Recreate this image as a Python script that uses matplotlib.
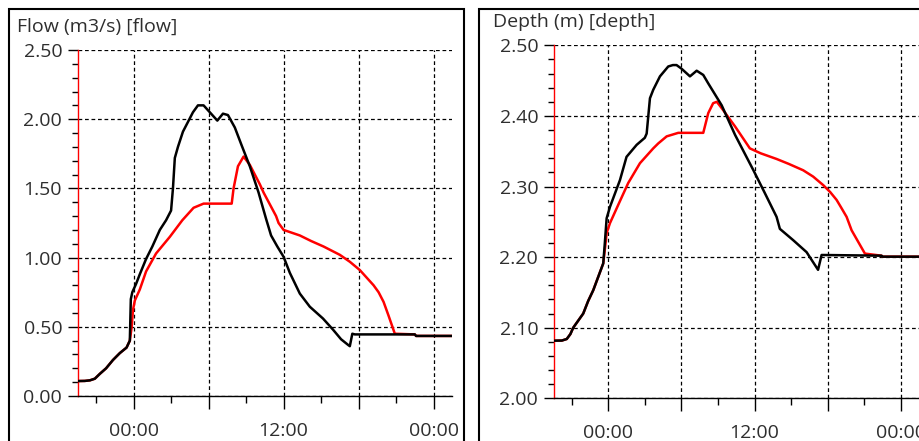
import pandas as pd
import matplotlib as mpl
mpl.use('Agg')
import matplotlib.pyplot as plt
import matplotlib.dates as mdates
from matplotlib.patches import Rectangle
from matplotlib.ticker import MultipleLocator, FuncFormatter

plt.rcParams['font.family'] = ['Open Sans', 'DejaVu Sans']

base = pd.Timestamp('2020-01-02 00:00')

# flow panel (hours relative to midnight)
flow_obs_h = [-4.45, -3.9, -3.5, -3.1, -2.7, -2.2, -1.65, -1.1, -0.56, -0.3, -0.22, -0.1, 0.2, 0.5, 1.0, 1.5,
              2.1, 2.6, 3.0, 3.15, 3.3, 3.55, 3.95, 4.35, 4.75, 5.15, 5.6, 6.1, 6.7, 7.15, 7.55, 8.1,
              8.65, 9.3, 10.0, 10.6, 11.0, 11.5, 12.0, 12.5, 13.3, 14.1, 15.15, 15.95, 16.6, 17.15,
              17.3, 17.5, 17.7, 22.5, 22.6, 25.5]
flow_obs = [0.108, 0.109, 0.113, 0.125, 0.16, 0.20, 0.26, 0.31, 0.35, 0.40, 0.70, 0.75, 0.81, 0.88, 0.99, 1.08,
            1.20, 1.27, 1.34, 1.50, 1.72, 1.80, 1.91, 1.98, 2.05, 2.10, 2.10, 2.05, 1.99, 2.04, 2.03, 1.94,
            1.81, 1.66, 1.47, 1.28, 1.16, 1.08, 1.006, 0.89, 0.74, 0.645, 0.56, 0.48, 0.41, 0.37,
            0.36, 0.45, 0.445, 0.445, 0.434, 0.434]
flow_sim_h = [-4.45, -3.9, -3.5, -3.1, -2.7, -2.2, -1.65, -1.1, -0.56, -0.3, -0.15, -0.05, 0.1, 0.5, 1.0, 1.8,
              2.9, 3.9, 4.3, 4.8, 5.6, 7.85, 8.0, 8.35, 8.8, 9.3, 10.1, 10.4, 11.4, 11.6, 12.0, 13.3,
              14.2, 15.2, 16.5, 17.3, 18.1, 18.6, 19.2, 19.6, 20.0, 20.4, 20.9, 22.5, 22.6, 25.5]
flow_sim = [0.108, 0.109, 0.113, 0.125, 0.16, 0.20, 0.26, 0.31, 0.35, 0.40, 0.50, 0.62, 0.69, 0.77, 0.90, 1.03,
            1.15, 1.27, 1.31, 1.36, 1.39, 1.39, 1.50, 1.66, 1.73, 1.67, 1.53, 1.47, 1.30, 1.25, 1.20, 1.16,
            1.12, 1.08, 1.02, 0.97, 0.91, 0.86, 0.80, 0.75, 0.68, 0.58, 0.45, 0.445, 0.434, 0.434]

# depth panel
depth_obs_h = [-4.47, -3.8, -3.4, -3.1, -2.87, -2.05, -1.64, -1.23, -0.82, -0.41, -0.3, -0.13, 0.14, 0.55, 0.96,
               1.5, 2.33, 3.0, 3.15, 3.42, 3.69, 4.24, 4.92, 5.3, 5.6, 6.0, 6.7, 7.25, 7.79, 8.2, 9.3, 10.4,
               11.9, 12.8, 13.8, 14.07, 15.16, 16.26, 17.2, 17.49, 22.4, 22.5, 25.5]
depth_obs = [2.0816, 2.0818, 2.084, 2.091, 2.10, 2.120, 2.138, 2.153, 2.172, 2.191, 2.215, 2.255, 2.271, 2.29,
             2.309, 2.342, 2.359, 2.369, 2.375, 2.425, 2.437, 2.456, 2.470, 2.472, 2.472, 2.467, 2.456, 2.464,
             2.458, 2.446, 2.415, 2.373, 2.323, 2.292, 2.257, 2.240, 2.224, 2.207, 2.182, 2.203, 2.202,
             2.2006, 2.2006]
depth_sim_h = [-4.47, -3.8, -3.4, -3.1, -2.87, -2.05, -1.64, -1.23, -0.82, -0.41, -0.25, -0.13, 0.14, 0.82, 1.64,
               2.6, 3.69, 4.1, 4.79, 5.74, 7.79, 8.2, 8.6, 8.9, 9.3, 10.4, 11.61, 12.5, 13.8, 14.8, 15.98, 16.8,
               17.62, 18.2, 18.72, 19.1, 19.54, 19.95, 21.04, 22.4, 22.5, 25.5]
depth_sim = [2.0816, 2.0818, 2.084, 2.091, 2.10, 2.120, 2.138, 2.153, 2.172, 2.191, 2.215, 2.234, 2.248, 2.274,
             2.305, 2.333, 2.354, 2.361, 2.371, 2.376, 2.376, 2.404, 2.418, 2.420, 2.411, 2.385, 2.354, 2.347,
             2.339, 2.332, 2.323, 2.314, 2.302, 2.292, 2.281, 2.270, 2.257, 2.238, 2.205, 2.202, 2.2006, 2.2006]

panels = [
    dict(title='Flow (m3/s) [flow]', obs_h=flow_obs_h, obs=flow_obs, sim_h=flow_sim_h, sim=flow_sim,
         ylim=(0, 2.5), major=0.5, minor=0.1, pos=[77.7, 50, 451.7, 396]),
    dict(title='Depth (m) [depth]', obs_h=depth_obs_h, obs=depth_obs, sim_h=depth_sim_h, sim=depth_sim,
         ylim=(2.0, 2.5), major=0.1, minor=0.02, pos=[553.7, 45.3, 918.7, 398.3]),
]

W, H = 919, 441
fig = plt.figure(figsize=(W / 100, H / 100), dpi=100)

# panel frames
fig.add_artist(Rectangle((9 / W, -0.1), 455 / W, 1.1 - 9 / H, transform=fig.transFigure,
                         fill=False, edgecolor='black', linewidth=1.5))
fig.add_artist(Rectangle((479 / W, -0.1), 0.6, 1.1 - 9 / H, transform=fig.transFigure,
                         fill=False, edgecolor='black', linewidth=1.5))

txtcol = '#2e2e2e'
dash = (0, (3, 2.2))


def hour_label(x, pos):
    d = mdates.num2date(x)
    if d.hour in (0, 12):
        return d.strftime('%H:%M')
    return ''


for p in panels:
    x0, y0, x1, y1 = p['pos']
    ax = fig.add_axes([x0 / W, 1 - y1 / H, (x1 - x0) / W, (y1 - y0) / H])
    t_obs = base + pd.to_timedelta(p['obs_h'], unit='h')
    t_sim = base + pd.to_timedelta(p['sim_h'], unit='h')
    ax.plot(t_sim, p['sim'], color='red', linewidth=1.8, zorder=3)
    ax.plot(t_obs, p['obs'], color='black', linewidth=1.8, zorder=4)

    ax.set_xlim(base + pd.Timedelta(hours=-4.47), base + pd.Timedelta(hours=25.45))
    ax.set_ylim(*p['ylim'])

    ax.xaxis.set_major_locator(mdates.HourLocator(byhour=[0, 6, 12, 18]))
    ax.xaxis.set_minor_locator(mdates.HourLocator(byhour=[3, 9, 15, 21]))
    ax.xaxis.set_major_formatter(FuncFormatter(hour_label))
    ax.yaxis.set_major_locator(MultipleLocator(p['major']))
    ax.yaxis.set_minor_locator(MultipleLocator(p['minor']))
    ax.yaxis.set_major_formatter(FuncFormatter(lambda v, pos: '%.2f' % v))

    ax.grid(True, which='major', color='black', linestyle=dash, linewidth=0.9)
    ax.tick_params(axis='x', which='major', length=9.5, width=1, pad=9, labelsize=14, labelcolor=txtcol)
    ax.tick_params(axis='x', which='minor', length=5, width=1)
    ax.tick_params(axis='y', which='major', length=7.2, width=1, pad=4, labelsize=14, labelcolor=txtcol)
    ax.tick_params(axis='y', which='minor', length=4.3, width=1)

    for s in ('top', 'right'):
        ax.spines[s].set_visible(False)
    ax.spines['left'].set_color('red')
    ax.spines['left'].set_linewidth(1)
    ax.spines['bottom'].set_linewidth(1)

    fig.text((x0 - 61) / W, 1 - (y0 - 18.5) / H, p['title'], fontsize=14, color=txtcol,
             ha='left', va='baseline')

fig.savefig('out.png', dpi=100)
